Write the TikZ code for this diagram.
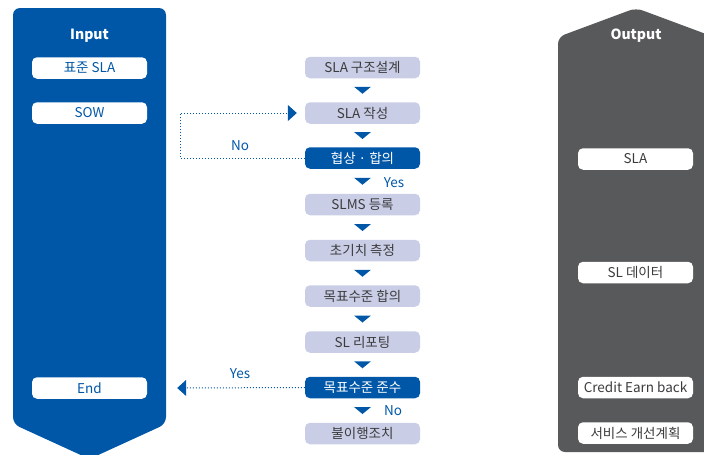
\documentclass[tikz,border=0pt]{standalone}
\usepackage{fontspec}
\setmainfont{Noto Sans CJK KR}
\usetikzlibrary{arrows.meta,calc}
\definecolor{sblue}{RGB}{0,87,168}
\definecolor{slight}{RGB}{201,206,230}
\definecolor{stext}{RGB}{60,60,62}
\definecolor{sgray}{RGB}{88,89,91}
\tikzset{
  base/.style={minimum width=115pt, minimum height=21.5pt, inner sep=0pt, rounded corners=5pt, font=\fontsize{13.5}{14}\selectfont},
  lightbox/.style={base, fill=slight, text=stext},
  darkbox/.style={base, fill=sblue, text=white},
  inbox/.style={base, fill=white, text=sblue},
  outbox/.style={base, fill=white, text=stext},
  paneltitle/.style={text=white, font=\fontsize{14}{15}\selectfont\bfseries},
  downtri/.style={fill=sblue},
  fb/.style={sblue, line width=1pt, dotted, -{Triangle[length=9pt,width=16pt]}},
  lbl/.style={text=sblue, font=\fontsize{13.5}{14}\selectfont}
}
\newcommand{\dtri}[2]{\fill[downtri] ($(#1.south)!0.5!(#2.north)$) ++(-8.5,-3.5) -- ++(17,0) -- ++(-8.5,7) -- cycle;}
\begin{document}
\begin{tikzpicture}[x=1pt,y=-1pt]
\useasboundingbox (0,0) rectangle (704,455);
% panels
\fill[sblue, rounded corners=7pt] (13,8) -- (166,8) -- (166,424) -- (89.5,459) -- (13,424) -- cycle;
\fill[sgray, rounded corners=7pt] (558,452) -- (558,37) -- (636,8) -- (714,37) -- (714,452) -- cycle;
\node[paneltitle] (intitle) at (89.5,36) {Input};
\node[paneltitle] (outtitle) at (636,36) {Output};
% input boxes
\node[inbox] (in1) at (89.5,68) {표준 SLA};
\node[inbox] (in2) at (89.5,113) {SOW};
\node[inbox] (end) at (89.5,388) {End};
% output boxes
\node[outbox] (o1) at (635.5,159) {SLA};
\node[outbox] (o2) at (635.5,272.5) {SL 데이터};
\node[outbox] (o3) at (635.5,387.5) {Credit Earn back};
\node[outbox] (o4) at (635.5,433) {서비스 개선계획};
% center flow
\node[lightbox] (s1) at (362.5,67.5) {SLA 구조설계};
\node[lightbox] (s2) at (362.5,113) {SLA 작성};
\node[darkbox]  (s3) at (362.5,158) {협상 · 합의};
\node[lightbox] (s4) at (362.5,204.5) {SLMS 등록};
\node[lightbox] (s5) at (362.5,250.5) {초기치 측정};
\node[lightbox] (s6) at (362.5,296) {목표수준 합의};
\node[lightbox] (s7) at (362.5,342) {SL 리포팅};
\node[darkbox]  (s8) at (362.5,387.5) {목표수준 준수};
\node[lightbox] (s9) at (362.5,433.5) {불이행조치};
\dtri{s1}{s2}
\dtri{s2}{s3}
\dtri{s3}{s4}
\dtri{s4}{s5}
\dtri{s5}{s6}
\dtri{s6}{s7}
\dtri{s7}{s8}
\dtri{s8}{s9}
\node[lbl] (yes1) at (394,183) {Yes};
\node[lbl] (no2) at (393,411) {No};
% feedback loops
\coordinate (nocorner) at (180,158);
\draw[fb] (s3.west) -- (nocorner) |- ([xshift=-8pt]s2.west);
\node[lbl] (no1) at (240,146) {No};
\draw[fb] (s8.west) -- ([xshift=30pt]end.east);
\node[lbl] (yes2) at (240,374) {Yes};
\end{tikzpicture}
\end{document}
